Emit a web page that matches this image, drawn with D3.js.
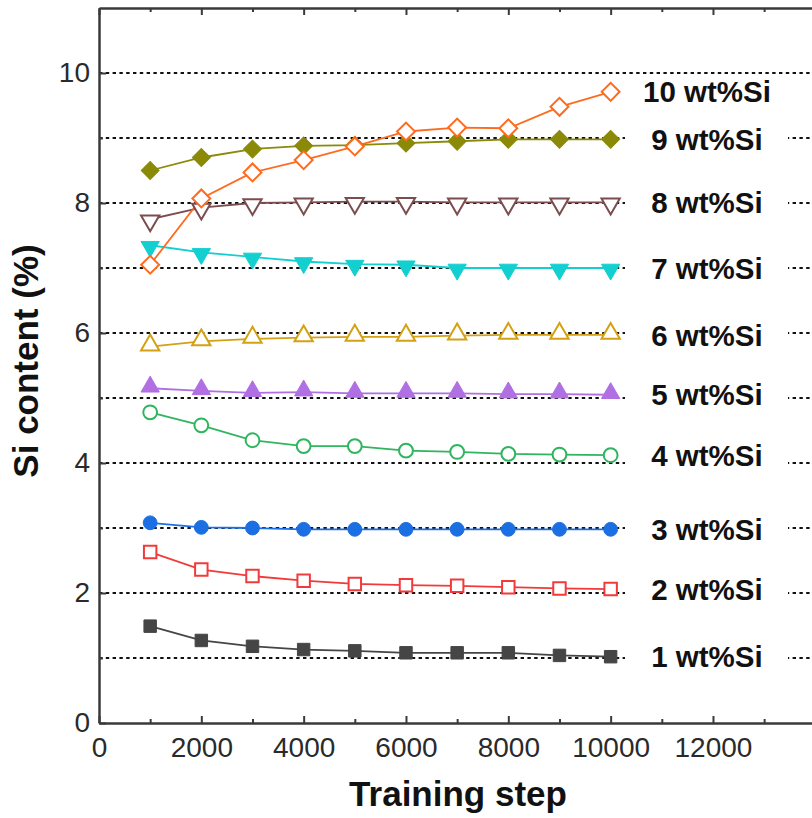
<!DOCTYPE html>
<html>
<head>
<meta charset="utf-8">
<script src="https://cdn.jsdelivr.net/npm/d3@7/dist/d3.min.js"></script>
<style>
  html, body { margin: 0; padding: 0; background: #fff; }
  svg { display: block; }
</style>
</head>
<body>
<svg id="chart" width="812" height="818"></svg>
<script>
// ---- data ----
const steps = [1000, 2000, 3000, 4000, 5000, 6000, 7000, 8000, 9000, 10000];
const si1  = [1.49, 1.27, 1.18, 1.13, 1.11, 1.08, 1.08, 1.08, 1.04, 1.02];
const si2  = [2.63, 2.36, 2.26, 2.19, 2.14, 2.12, 2.11, 2.09, 2.07, 2.06];
const si3  = [3.08, 3.01, 3.00, 2.98, 2.98, 2.98, 2.98, 2.98, 2.98, 2.98];
const si4  = [4.78, 4.58, 4.35, 4.26, 4.26, 4.19, 4.17, 4.14, 4.13, 4.12];
const si5  = [5.15, 5.11, 5.08, 5.09, 5.07, 5.07, 5.07, 5.06, 5.06, 5.05];
const si6  = [5.79, 5.87, 5.91, 5.93, 5.94, 5.94, 5.96, 5.97, 5.97, 5.97];
const si7  = [7.35, 7.24, 7.17, 7.10, 7.06, 7.05, 7.00, 7.00, 7.00, 7.00];
const si8  = [7.75, 7.93, 8.00, 8.01, 8.02, 8.02, 8.01, 8.01, 8.01, 8.01];
const si9  = [8.50, 8.70, 8.83, 8.88, 8.89, 8.92, 8.95, 8.98, 8.98, 8.98];
const si10 = [7.05, 8.07, 8.47, 8.66, 8.87, 9.10, 9.16, 9.15, 9.48, 9.71];
const seriesLabels = ["1 wt%Si","2 wt%Si","3 wt%Si","4 wt%Si","5 wt%Si","6 wt%Si","7 wt%Si","8 wt%Si","9 wt%Si","10 wt%Si"];
const xTicks = [0, 2000, 4000, 6000, 8000, 10000, 12000];
const xMinorTicks = [1000, 3000, 5000, 7000, 9000, 11000, 13000];
const yTicks = [0, 2, 4, 6, 8, 10];
const yMinorTicks = [1, 3, 5, 7, 9];
const gridValues = [1, 2, 3, 4, 5, 6, 7, 8, 9, 10];

const seriesValues = [si1, si2, si3, si4, si5, si6, si7, si8, si9, si10];
const colors = ["#454545", "#f23a3a", "#1c6fe3", "#2fb55e", "#b06fe2", "#d4a114", "#14cfd0", "#7b4d4f", "#8a8a08", "#ff6b1e"];
const shapes = ["square", "square", "circle", "circle", "triUp", "triUp", "triDown", "triDown", "diamond", "diamond"];
const filled = [true, false, true, false, true, false, true, false, true, false];

// ---- layout ----
const svg = d3.select("#chart");
const x = d3.scaleLinear().domain([0, 14000]).range([99, 815.3]);
const y = d3.scaleLinear().domain([0, 11]).range([723, 8]);
const axisColor = "#3a3a3a";
const tickFont = "'Liberation Sans', Arial, sans-serif";

// gridlines
svg.append("g").selectAll("line").data(gridValues).join("line")
  .attr("x1", x(0)).attr("x2", 812)
  .attr("y1", d => y(d)).attr("y2", d => y(d))
  .attr("stroke", "#111").attr("stroke-width", 2)
  .attr("stroke-dasharray", "3.4,3.4");

// labels with white background
const labelG = svg.append("g");
const lblCx = 707;
seriesValues.forEach((vals, i) => {
  const ly = y(vals[vals.length - 1]);
  labelG.append("rect")
    .attr("x", 625).attr("width", 163)
    .attr("y", ly - 15).attr("height", 30)
    .attr("fill", "#fff");
  labelG.append("text")
    .attr("x", lblCx).attr("y", ly)
    .attr("dy", "0.36em")
    .attr("text-anchor", "middle")
    .attr("font-family", tickFont)
    .attr("font-weight", "bold")
    .attr("font-size", 29.5)
    .attr("fill", "#111")
    .text(seriesLabels[i]);
});

// axes
function styleAxis(g) {
  g.select(".domain").attr("stroke", axisColor).attr("stroke-width", 2.5);
  g.selectAll(".tick line").attr("stroke", axisColor).attr("stroke-width", 2);
  g.selectAll(".tick text").attr("fill", "#2a2a2a")
    .attr("font-family", tickFont).attr("font-size", 28);
}
const gBottom = svg.append("g").attr("transform", `translate(0,${y(0)})`)
  .call(d3.axisBottom(x).tickValues(xTicks).tickFormat(d3.format("d")).tickSizeInner(-7).tickSizeOuter(0).tickPadding(14));
styleAxis(gBottom);
const gBottomMinor = svg.append("g").attr("transform", `translate(0,${y(0)})`)
  .call(d3.axisBottom(x).tickValues(xMinorTicks).tickSizeInner(-4).tickSizeOuter(0).tickFormat(""));
styleAxis(gBottomMinor);
gBottomMinor.select(".domain").remove();

const gTop = svg.append("g").attr("transform", `translate(0,${y(11)})`)
  .call(d3.axisTop(x).tickValues(xTicks).tickSizeInner(-7).tickSizeOuter(0).tickFormat(""));
styleAxis(gTop);
const gTopMinor = svg.append("g").attr("transform", `translate(0,${y(11)})`)
  .call(d3.axisTop(x).tickValues(xMinorTicks).tickSizeInner(-4).tickSizeOuter(0).tickFormat(""));
styleAxis(gTopMinor);
gTopMinor.select(".domain").remove();

const gLeft = svg.append("g").attr("transform", `translate(${x(0)},0)`)
  .call(d3.axisLeft(y).tickValues(yTicks).tickFormat(d3.format("d")).tickSizeInner(-7).tickSizeOuter(0).tickPadding(9));
styleAxis(gLeft);
const gLeftMinor = svg.append("g").attr("transform", `translate(${x(0)},0)`)
  .call(d3.axisLeft(y).tickValues(yMinorTicks).tickSizeInner(-4).tickSizeOuter(0).tickFormat(""));
styleAxis(gLeftMinor);
gLeftMinor.select(".domain").remove();

// axis titles
svg.append("text")
  .attr("transform", `translate(38,${361}) rotate(-90)`)
  .attr("text-anchor", "middle")
  .attr("font-family", tickFont).attr("font-weight", "bold").attr("font-size", 35)
  .attr("fill", "#111")
  .text("Si content (%)");
svg.append("text")
  .attr("x", 458).attr("y", 806)
  .attr("text-anchor", "middle")
  .attr("font-family", tickFont).attr("font-weight", "bold").attr("font-size", 35)
  .attr("fill", "#111")
  .text("Training step");

// series
const lineGen = d3.line().x(d => x(d[0])).y(d => y(d[1]));
function symbolPath(shape) {
  switch (shape) {
    case "square": return d3.symbol().type(d3.symbolSquare).size(155)();
    case "circle": return d3.symbol().type(d3.symbolCircle).size(150)();
    case "triUp": return d3.symbol().type(d3.symbolTriangle).size(145)();
    case "triDown": return d3.symbol().type(d3.symbolTriangle).size(145)();
    case "diamond": return d3.symbol().type(d3.symbolSquare).size(160)();
  }
}
function symbolRot(shape) {
  if (shape === "triDown") return 180;
  if (shape === "diamond") return 45;
  return 0;
}
const seriesG = svg.append("g");
seriesValues.forEach((vals, i) => {
  const pts = steps.map((s, k) => [s, vals[k]]);
  seriesG.append("path")
    .attr("d", lineGen(pts))
    .attr("fill", "none")
    .attr("stroke", colors[i])
    .attr("stroke-width", 1.8);
});
seriesValues.forEach((vals, i) => {
  const pts = steps.map((s, k) => [s, vals[k]]);
  const sh = shapes[i];
  const p = symbolPath(sh);
  const rot = symbolRot(sh);
  const dyOff = sh === "triUp" ? -1.5 : (sh === "triDown" ? 1.5 : 0);
  seriesG.append("g").selectAll("path").data(pts).join("path")
    .attr("d", p)
    .attr("transform", d => `translate(${x(d[0])},${y(d[1]) + dyOff}) rotate(${rot})`)
    .attr("fill", filled[i] ? colors[i] : "#fff")
    .attr("stroke", colors[i])
    .attr("stroke-width", filled[i] ? 1 : 2);
});
</script>
</body>
</html>
